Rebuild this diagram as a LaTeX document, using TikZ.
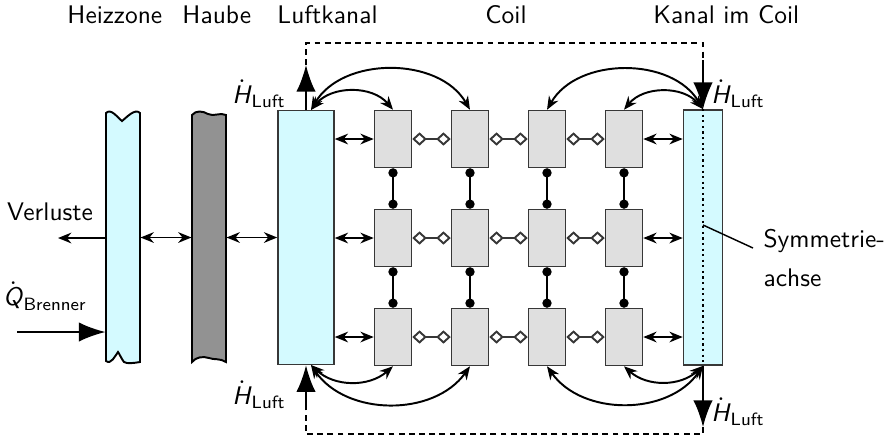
\documentclass[tikz,border=0pt]{standalone}
\usepackage{amsmath,amssymb}
\usepackage{xcolor}
\definecolor{luftcyan}{RGB}{212,250,255}
\definecolor{haubegray}{RGB}{146,146,146}
\definecolor{coilgray}{RGB}{223,223,223}
\definecolor{edgegray}{RGB}{55,55,55}
\usepackage{tikz}
\usetikzlibrary{arrows.meta, positioning, calc}

\newcommand{\hluft}{$\dot{\textsf{\textsl{H}}}_{\textsf{Luft}}$}

\begin{document}
\begin{tikzpicture}[
    x=0.0145cm, y=-0.0145cm,
    >=Stealth,
    font=\sffamily\fontsize{10.5}{13}\selectfont,
    coilnode/.style={draw=edgegray, semithick, fill=coilgray, rectangle, minimum width=0.537cm, minimum height=0.827cm, inner sep=0pt},
    kanalnode/.style={draw=edgegray, semithick, fill=luftcyan, rectangle, inner sep=0pt},
    zonenode/.style={rectangle, minimum width=0.493cm, minimum height=3.6cm, inner sep=0pt},
    toplabel/.style={anchor=base west, inner sep=0pt},
    flowlabel/.style={inner sep=0pt},
    exch/.style={{Stealth[length=5.5pt,width=4.4pt]}-{Stealth[length=5.5pt,width=4.4pt]}, thick},
    flow/.style={-{Latex[length=11pt,width=8pt]}, thick},
    loopline/.style={thick, dash pattern=on 2.4pt off 1.8pt},
    rowlink/.style={{Diamond[open,length=6pt,width=5.5pt]}-{Diamond[open,length=6pt,width=5.5pt]}, edgegray, thick},
    collink/.style={{Circle[length=3.8pt]}-{Circle[length=3.8pt]}, thick}
  ]
  \useasboundingbox (0,0) rectangle (885,437);

  % column titles
  \node[toplabel] (t_heiz) at (67,23) {Heizzone};
  \node[toplabel] (t_haube) at (182,23) {Haube};
  \node[toplabel] (t_luft) at (277,23) {Luftkanal};
  \node[anchor=base, inner sep=0pt] (t_coil) at (506,23) {Coil};
  \node[toplabel] (t_kanal) at (653,23) {Kanal im Coil};

  % Heizzone and Haube (cut walls)
  \filldraw[fill=luftcyan, thick] (106,113) .. controls (111,108) and (117,117) .. (122,121)
    .. controls (127,117) and (135,108) .. (140,113) -- (140,362)
    .. controls (134,363) and (127,364) .. (124,362) .. controls (121,358) and (119,353) .. (118,352)
    .. controls (115,356) and (111,365) .. (106,361) -- cycle;
  \filldraw[fill=haubegray, thick] (192,115) .. controls (196,110) and (203,111) .. (208,114)
    .. controls (214,117) and (220,112) .. (226,115) -- (226,362)
    .. controls (220,358) and (214,360) .. (209,358) .. controls (203,356) and (196,357) .. (192,362) -- cycle;
  \node[zonenode] (heiz_zone) at (123,237.5) {};
  \node[zonenode] (haube) at (209,237.5) {};

  \node[kanalnode, minimum width=0.812cm, minimum height=3.683cm] (luft_kanal) at (306,237.5) {};
  \node[kanalnode, minimum width=0.566cm, minimum height=3.70cm] (kanal_coil) at (703,237.5) {};

  % coil elements
  \foreach \row/\yy in {1/139,2/238,3/337}
    \foreach \col/\xx in {1/393,2/470,3/547,4/624}
      \node[coilnode] (coil_\row\col) at (\xx,\yy) {};
  \foreach \row in {1,2,3}
    \foreach \a/\b in {1/2,2/3,3/4}
      \draw[rowlink] (coil_\row\a) -- (coil_\row\b);
  \foreach \col in {1,...,4}
    \foreach \a/\b in {1/2,2/3}
      \draw[collink] (coil_\a\col) -- (coil_\b\col);
  \foreach \row in {1,2,3} {
    \draw[exch] (luft_kanal.east |- coil_\row1) -- (coil_\row1);
    \draw[exch] (coil_\row4) -- (kanal_coil.west |- coil_\row4);
  }

  \draw[exch] (heiz_zone) -- (haube);
  \draw[exch] (haube) -- (luft_kanal);

  % losses and burner
  \coordinate (verl_end) at (58,238);
  \coordinate (q_start) at (17,332);
  \draw[-{Stealth[length=5.5pt,width=4.4pt]}, thick] (heiz_zone.west |- verl_end) -- (verl_end);
  \draw[flow] (q_start) -- (heiz_zone.west |- q_start);
  \node[flowlabel] (verl_label) at (50,212) {Verluste};
  \node[flowlabel] (q_label) at (45,296) {$\dot{\textsf{\textsl{Q}}}_{\textsf{Brenner}}$};

  % air flow loop
  \coordinate (lt_top) at (306,65);
  \coordinate (loop_tr) at (703,43);
  \coordinate (rt_top) at (703,60);
  \coordinate (rb_bot) at (703,427);
  \coordinate (loop_br) at (703,434);
  \coordinate (lb_bot) at (306,405);
  \draw[flow] (luft_kanal.north) -- (lt_top);
  \draw[loopline] (lt_top) |- (loop_tr) -- (rt_top);
  \draw[flow] (rt_top) -- (kanal_coil.north);
  \draw[flow] (kanal_coil.south) -- (rb_bot);
  \draw[loopline] (rb_bot) -- (loop_br) -| (lb_bot);
  \draw[flow] (lb_bot) -- (luft_kanal.south);
  \draw[thick, dash pattern=on 0.9pt off 1.4pt] (kanal_coil.north) -- (kanal_coil.south);

  \node[flowlabel] (h_lt) at (259,94) {\hluft};
  \node[flowlabel] (h_lb) at (259,395) {\hluft};
  \node[flowlabel] (h_rt) at (738,94) {\hluft};
  \node[flowlabel] (h_rb) at (738,412) {\hluft};

  % radiation exchange
  \coordinate (lk_top) at (311,110);
  \coordinate (lk_bot) at (311,365);
  \draw[exch] (lk_top) to[bend left=50] (coil_11.north);
  \draw[exch] (lk_top) to[bend left=60] (coil_12.north);
  \draw[exch] (kanal_coil.north) to[bend right=50] (coil_14.north);
  \draw[exch] (kanal_coil.north) to[bend right=60] (coil_13.north);
  \draw[exch] (lk_bot) to[bend right=42] (coil_31.south);
  \draw[exch] (lk_bot) to[bend right=55] (coil_32.south);
  \draw[exch] (kanal_coil.south) to[bend left=42] (coil_34.south);
  \draw[exch] (kanal_coil.south) to[bend left=55] (coil_33.south);

  % symmetry axis
  \coordinate (sym_pt) at (703,225);
  \coordinate (sym_end) at (753,248);
  \node[anchor=west, align=left] (sym_label) at (755,258) {Symmetrie-\\[3pt]achse};
  \draw[semithick] (sym_pt) -- (sym_end);

\end{tikzpicture}
\end{document}
